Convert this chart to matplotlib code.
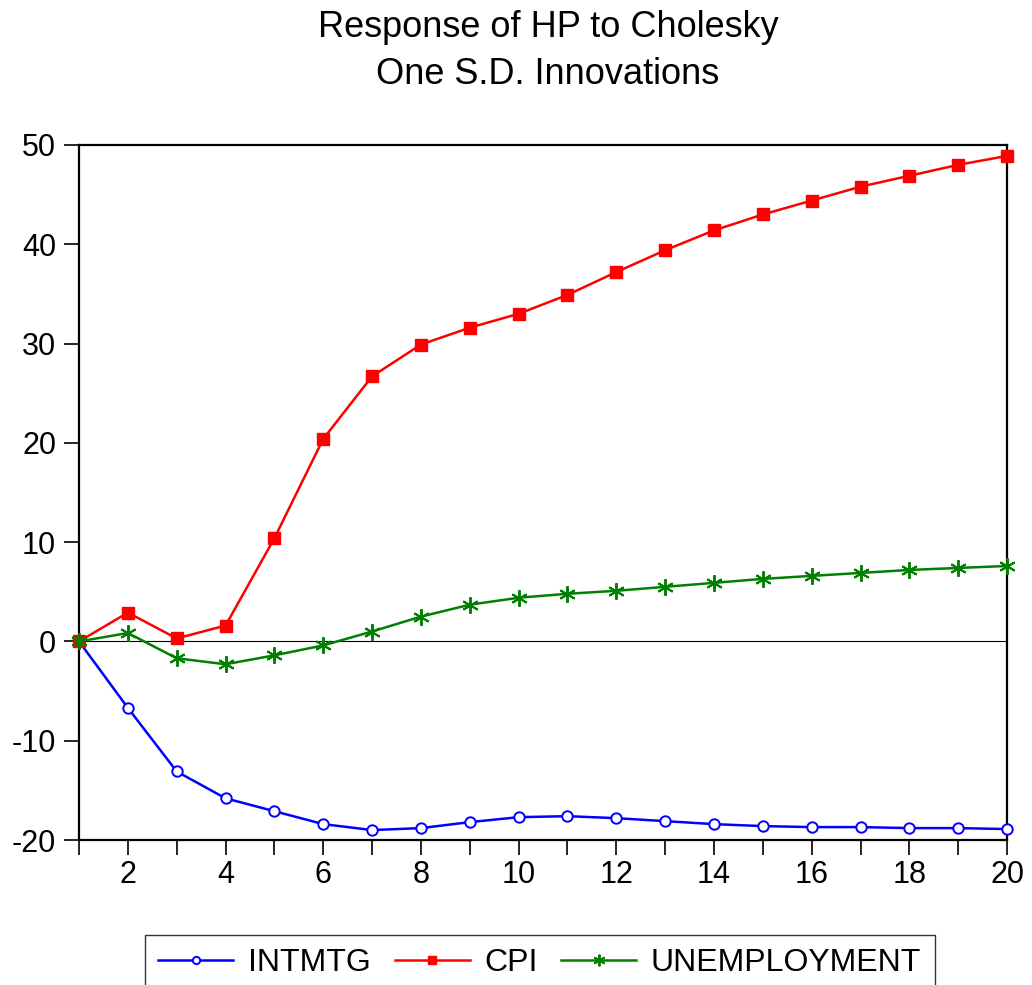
import matplotlib.pyplot as plt

plt.rcParams['font.family'] = ['Liberation Sans', 'DejaVu Sans']
plt.rcParams['axes.unicode_minus'] = False

periods = list(range(1, 21))
intmtg = [0.0, -6.7, -13.1, -15.8, -17.1, -18.4, -19.0, -18.8, -18.2, -17.7,
          -17.6, -17.8, -18.1, -18.4, -18.6, -18.7, -18.7, -18.8, -18.8, -18.9]
cpi = [0.0, 2.9, 0.3, 1.6, 10.4, 20.4, 26.7, 29.9, 31.6, 33.0,
       34.9, 37.2, 39.4, 41.4, 43.0, 44.4, 45.8, 46.9, 48.0, 48.9]
unemployment = [0.0, 0.85, -1.7, -2.3, -1.4, -0.4, 1.0, 2.5, 3.7, 4.4,
                4.8, 5.1, 5.5, 5.9, 6.3, 6.6, 6.9, 7.2, 7.4, 7.6]

fig = plt.figure(figsize=(10.32, 9.85), dpi=100)
ax = fig.add_axes([0.0766, 0.1472, 0.8992, 0.7056])

ax.axhline(0, color='black', linewidth=0.8, zorder=1)
l1, = ax.plot(periods, intmtg, color='blue', linewidth=1.8, marker='o',
              markersize=7.5, markerfacecolor='white', markeredgecolor='blue',
              markeredgewidth=1.4, clip_on=False, zorder=3)
l2, = ax.plot(periods, cpi, color='red', linewidth=1.8, marker='s',
              markersize=9, markerfacecolor='red', markeredgecolor='red',
              clip_on=False, zorder=3)
l3, = ax.plot(periods, unemployment, color='green', linewidth=1.8, marker=(6, 2, 0),
              markersize=12, markeredgecolor='green', markeredgewidth=1.4,
              clip_on=False, zorder=3)

ax.set_xlim(1, 20)
ax.set_ylim(-20, 50)
ax.set_yticks([-20, -10, 0, 10, 20, 30, 40, 50])
ax.set_xticks(periods)
ax.set_xticklabels([str(p) if p % 2 == 0 else '' for p in periods])
ax.tick_params(axis='both', direction='out', length=10.5, width=1.2, labelsize=22)
ax.tick_params(axis='x', pad=4)
ax.tick_params(axis='y', pad=6)
for s in ax.spines.values():
    s.set_linewidth(1.6)

fig.suptitle('Response of HP to Cholesky\nOne S.D. Innovations',
             fontsize=26, x=0.531, y=0.99, linespacing=1.45)

leg = fig.legend([l1, l2, l3], ['INTMTG', 'CPI', 'UNEMPLOYMENT'],
                 loc='upper center', bbox_to_anchor=(0.523, 0.051), ncol=3,
                 fontsize=23, frameon=True, fancybox=False, handlelength=2.35,
                 columnspacing=0.75, handletextpad=0.45, borderpad=0.42,
                 borderaxespad=0, markerscale=0.7)
leg.get_frame().set_edgecolor('black')
leg.get_frame().set_linewidth(1.0)

fig.savefig('out.png', dpi=100)
